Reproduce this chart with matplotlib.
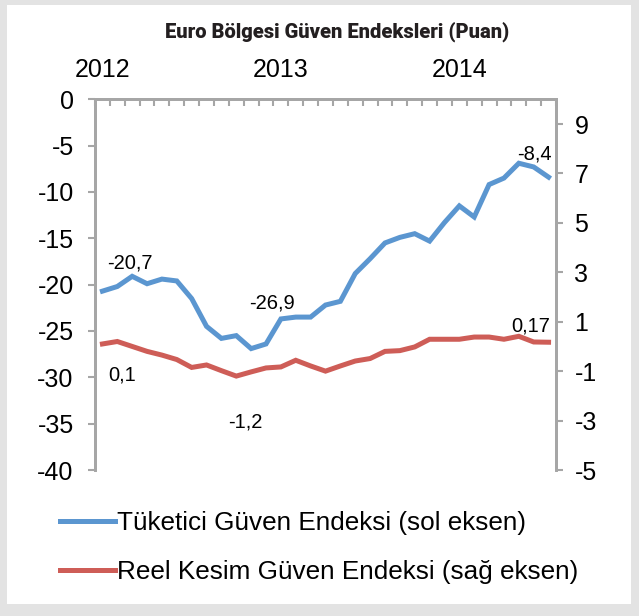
import matplotlib
matplotlib.use('Agg')
import matplotlib.pyplot as plt
from matplotlib.patches import Rectangle

# aylık veriler, Ocak 2012 - Temmuz 2014
tuketici = [-20.7, -20.2, -19.1, -19.9, -19.4, -19.6, -21.5, -24.5, -25.8, -25.5, -26.9,
            -26.4, -23.7, -23.5, -23.5, -22.2, -21.8, -18.8, -17.2, -15.5, -14.9,
            -14.5, -15.3, -13.3, -11.5, -12.7, -9.2, -8.5, -6.9, -7.3, -8.4]
reel_kesim = [0.1, 0.2, 0.0, -0.2, -0.35, -0.53, -0.85, -0.75, -0.98, -1.2, -1.03,
              -0.87, -0.83, -0.56, -0.79, -1.0, -0.79, -0.59, -0.49, -0.2, -0.17,
              -0.02, 0.29, 0.29, 0.29, 0.38, 0.38, 0.29, 0.41, 0.18, 0.17]
yil_etiketleri = ['2012', '2013', '2014']
yil_konumlari = [0, 12, 24]

left_ticks = list(range(0, -45, -5))
right_ticks = list(range(9, -7, -2))

BLUE = '#5B96D0'
RED = '#CE5D57'
GREY = '#A6A6A6'

plt.rcParams['font.family'] = ['Liberation Sans', 'DejaVu Sans']

fig = plt.figure(figsize=(6.39, 6.16), dpi=100)
fig.patch.set_facecolor('#E3E3E3')
fig.patches.append(Rectangle((7 / 639, 12 / 616), 624 / 639, 599 / 616,
                             transform=fig.transFigure, facecolor='white',
                             edgecolor='none', zorder=-5))

ax = fig.add_axes([95 / 639, 146 / 616, 461 / 639, 370.7 / 616])
ax.set_facecolor('none')
ax2 = ax.twinx()

x = list(range(len(tuketici)))
l1, = ax.plot(x, tuketici, color=BLUE, lw=3.6, solid_joinstyle='miter',
              label='Tüketici Güven Endeksi (sol eksen)')
l2, = ax2.plot(x, reel_kesim, color=RED, lw=3.6, solid_joinstyle='miter',
               label='Reel Kesim Güven Endeksi (sağ eksen)')

ax.set_xlim(-0.5, len(x) - 0.5)
ax.set_ylim(-40, 0)
ax2.set_ylim(-5, 10)

# x ekseni üstte
ax.xaxis.tick_top()
ax.set_xticks(yil_konumlari)
ax.set_xticklabels(yil_etiketleri, fontsize=18)
ax.set_xticks([i - 0.5 for i in range(len(x) + 1)], minor=True)
ax.tick_params(axis='x', which='major', length=0, pad=12.5)
ax.tick_params(axis='x', which='minor', direction='in', length=5, width=1.5, color=GREY)

ax.set_yticks(left_ticks)
ax.set_yticklabels([str(v) for v in left_ticks], fontsize=18)
ax.tick_params(axis='y', direction='out', length=4.8, width=1.5, color=GREY, pad=10.5)
ax2.set_yticks(right_ticks)
ax2.set_yticklabels([str(v) for v in right_ticks], fontsize=18)
ax2.tick_params(axis='y', direction='out', length=4.8, width=1.5, color=GREY, pad=8.5)

for a in (ax, ax2):
    a.spines['bottom'].set_visible(False)
    for s in ('top', 'left', 'right'):
        a.spines[s].set_color(GREY)
        a.spines[s].set_linewidth(2)

# veri etiketleri
def etiket(axis, i, seri, dx, dy):
    axis.annotate(f'{seri[i]:g}'.replace('.', ','), xy=(i, seri[i]), xytext=(dx, dy),
                  textcoords='offset points', ha='center', va='center', fontsize=14.5)

etiket(ax, 0, tuketici, 20, 20)
etiket(ax, 10, tuketici, 15, 33)
etiket(ax, 30, tuketici, -10, 17)
etiket(ax2, 0, reel_kesim, 14, -22)
etiket(ax2, 9, reel_kesim, 6.5, -33)
etiket(ax2, 30, reel_kesim, -13, 12)

fig.text(337 / 639, 1 - 32 / 616, 'Euro Bölgesi Güven Endeksleri (Puan)',
         ha='center', va='center', fontsize=14.5, fontweight='heavy',
         family=['Roboto', 'DejaVu Sans'], color='#231F20')

fig.legend(handles=[l1, l2], loc='upper left', bbox_to_anchor=(60 / 639, 1 - 511 / 616),
           frameon=False, fontsize=18.8, handlelength=2.1, handletextpad=0.1,
           labelspacing=0.96, borderpad=0, borderaxespad=0)

fig.savefig('out.png', dpi=100)
